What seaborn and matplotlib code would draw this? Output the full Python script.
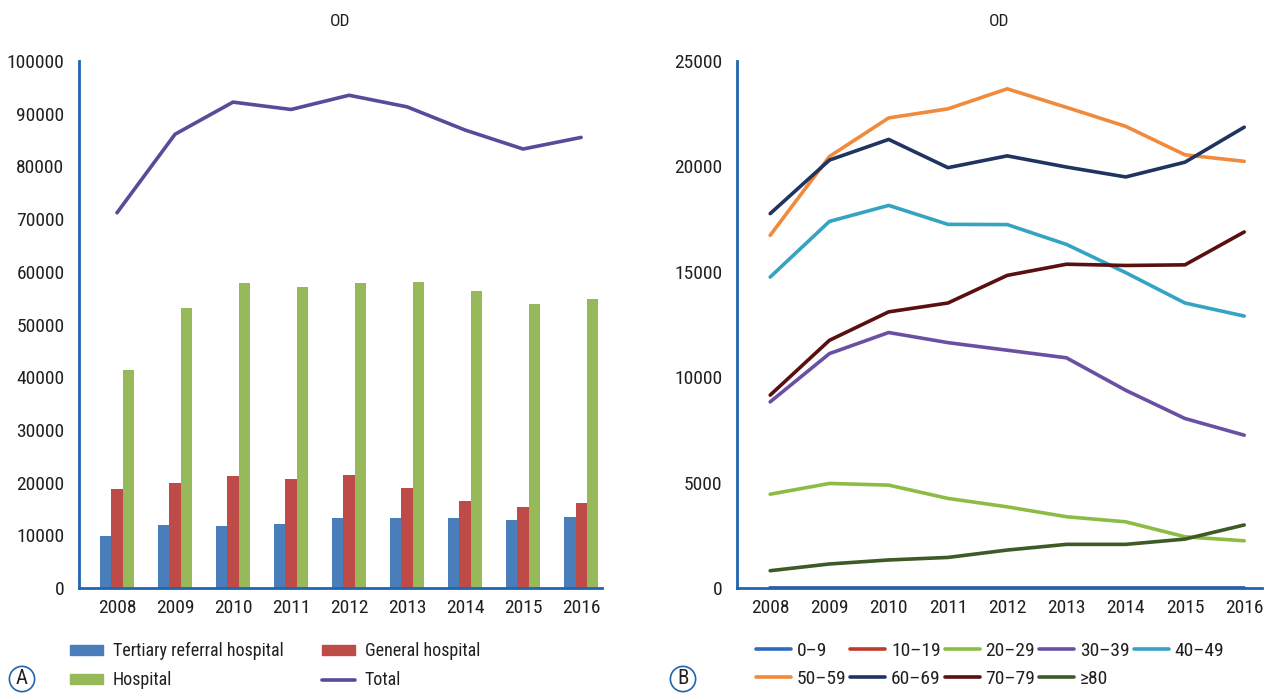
import numpy as np
import pandas as pd
import matplotlib
matplotlib.use("Agg")
import matplotlib.pyplot as plt
import seaborn as sns
from matplotlib.patches import Patch
from matplotlib.lines import Line2D

# ---------------- data ----------------
years = ["2008", "2009", "2010", "2011", "2012", "2013", "2014", "2015", "2016"]

tertiary = [9940, 11970, 11700, 12200, 13300, 13300, 13300, 12980, 13500]
general = [18700, 19950, 21200, 20700, 21400, 18900, 16450, 15400, 16200]
hospital = [41400, 53200, 57900, 57100, 57900, 58100, 56400, 53900, 54900]
total = [71200, 86100, 92200, 90800, 93500, 91300, 86900, 83300, 85500]

left_yticks = [0, 10000, 20000, 30000, 40000, 50000, 60000, 70000, 80000, 90000, 100000]
right_yticks = [0, 5000, 10000, 15000, 20000, 25000]

age_groups = ["0–9", "10–19", "20–29", "30–39", "40–49", "50–59", "60–69", "70–79", "≥80"]
age_0_9 = [0, 0, 0, 0, 0, 0, 0, 0, 0]
age_10_19 = [0, 0, 0, 0, 0, 0, 0, 0, 0]
age_20_29 = [4450, 4960, 4880, 4250, 3850, 3380, 3140, 2430, 2240]
age_30_39 = [8830, 11120, 12120, 11640, 11280, 10920, 9380, 8040, 7250]
age_40_49 = [14750, 17390, 18150, 17250, 17240, 16300, 14960, 13520, 12900]
age_50_59 = [16730, 20470, 22300, 22730, 23680, 22800, 21900, 20550, 20240]
age_60_69 = [17760, 20300, 21280, 19940, 20500, 19970, 19500, 20200, 21860]
age_70_79 = [9150, 11750, 13100, 13520, 14830, 15360, 15300, 15330, 16890]
age_80 = [820, 1140, 1330, 1450, 1800, 2070, 2070, 2320, 2990]

bar_names = ["Tertiary referral hospital", "General hospital", "Hospital"]
bar_colors = ["#4a7ebb", "#be4b48", "#98b95a"]
total_color = "#5b4a9a"
age_colors = ["#2e6bc0", "#c0392b", "#8cbc45", "#6a50a3", "#35a3c2",
              "#f08a3c", "#1f3460", "#5a0f10", "#3d5a27"]

# ---------------- style ----------------
sns.set_theme(style="white")
plt.rcParams["font.family"] = ["Roboto Condensed", "Fira Sans Condensed", "DejaVu Sans"]
text_color = "#231f20"
spine_color = "#2065b0"
fs = 14

fig = plt.figure(figsize=(12.64, 6.94), dpi=100)
W, H = 1264, 694
axA = fig.add_axes([79 / W, 1 - 588 / H, (602 - 79) / W, (588 - 61) / H])
axB = fig.add_axes([737 / W, 1 - 588 / H, (1262 - 737) / W, (588 - 61) / H])

# ---------------- panel A ----------------
bars_df = pd.DataFrame({
    "year": years * 3,
    "value": tertiary + general + hospital,
    "type": [bar_names[0]] * 9 + [bar_names[1]] * 9 + [bar_names[2]] * 9,
})
sns.barplot(data=bars_df, x="year", y="value", hue="type", order=years,
            hue_order=bar_names, palette=bar_colors, width=0.58, dodge=True,
            saturation=1, legend=False, ax=axA, errorbar=None, linewidth=0)
total_df = pd.DataFrame({"year": years, "total": total})
sns.pointplot(data=total_df, x="year", y="total", order=years, color=total_color,
              markers="", linestyles="-", errorbar=None, ax=axA, linewidth=2.6)

axA.set_xlim(-0.655, 8.36)
axA.set_ylim(0, 100000)
axA.set_yticks(left_yticks)
axA.set_yticklabels([str(v) for v in left_yticks])

# ---------------- panel B ----------------
age_series = [age_0_9, age_10_19, age_20_29, age_30_39, age_40_49,
              age_50_59, age_60_69, age_70_79, age_80]
rows = []
for g, vals in zip(age_groups, age_series):
    for y, v in zip(years, vals):
        rows.append({"year": int(y), "value": v, "age": g})
age_df = pd.DataFrame(rows)
sns.lineplot(data=age_df, x="year", y="value", hue="age", hue_order=age_groups,
             palette=age_colors, linewidth=2.6, legend=False, ax=axB)
# keep the 0-9 line on top of the 10-19 line (both lie along the baseline)
if axB.lines:
    axB.lines[0].set_zorder(2.2)
axB.set_xlim(2008 - 0.56, 2016 + 0.3)
axB.set_xticks([int(y) for y in years])
axB.set_xticklabels(years)
axB.set_ylim(0, 25000)
axB.set_yticks(right_yticks)
axB.set_yticklabels([str(v) for v in right_yticks])

# ---------------- common axes styling ----------------
for ax in (axA, axB):
    ax.set_xlabel("")
    ax.set_ylabel("")
    ax.set_title("OD", fontsize=12.5, color=text_color, pad=25)
    for s in ("top", "right"):
        ax.spines[s].set_visible(False)
    for s in ("left", "bottom"):
        ax.spines[s].set_color(spine_color)
        ax.spines[s].set_linewidth(2)
    ax.tick_params(axis="y", direction="in", length=11, width=1, color="#8c8c8c",
                   pad=10.5, labelsize=fs, labelcolor=text_color)
    ax.tick_params(axis="x", length=0, pad=8, labelsize=fs, labelcolor=text_color)
    ax.grid(False)

# ---------------- legends ----------------
handlesA = [Patch(facecolor=bar_colors[0], edgecolor=bar_colors[0]),
            Patch(facecolor=bar_colors[2], edgecolor=bar_colors[2]),
            Patch(facecolor=bar_colors[1], edgecolor=bar_colors[1]),
            Line2D([], [], color=total_color, linewidth=2.6)]
labelsA = [bar_names[0], bar_names[2], bar_names[1], "Total"]
fig.legend(handlesA, labelsA, ncol=2, loc="upper left",
           bbox_to_anchor=(70 / W, 1 - 642 / H), frameon=False, fontsize=13,
           handlelength=1.83, handleheight=0.45, handletextpad=0.55,
           columnspacing=2.1, labelspacing=0.62, borderpad=0, borderaxespad=0,
           labelcolor=text_color)

order = [0, 5, 1, 6, 2, 7, 3, 8, 4]
handlesB = [Line2D([], [], color=age_colors[i], linewidth=2.6) for i in order]
labelsB = [age_groups[i] for i in order]
fig.legend(handlesB, labelsB, ncol=5, loc="upper left",
           bbox_to_anchor=(756 / W, 1 - 642 / H), frameon=False, fontsize=fs,
           handlelength=1.8, handletextpad=0.3, columnspacing=0.2,
           labelspacing=0.51, borderpad=0, borderaxespad=0, labelcolor=text_color)

# ---------------- panel letters ----------------
for letter, x in (("A", 22), ("B", 683)):
    fig.text(x / W, 1 - 679 / H, letter, ha="center", va="center", fontsize=15,
             color=text_color,
             bbox=dict(boxstyle="circle,pad=0.15", facecolor="white",
                       edgecolor=spine_color, linewidth=1.2))

fig.savefig("out.png", dpi=100)
